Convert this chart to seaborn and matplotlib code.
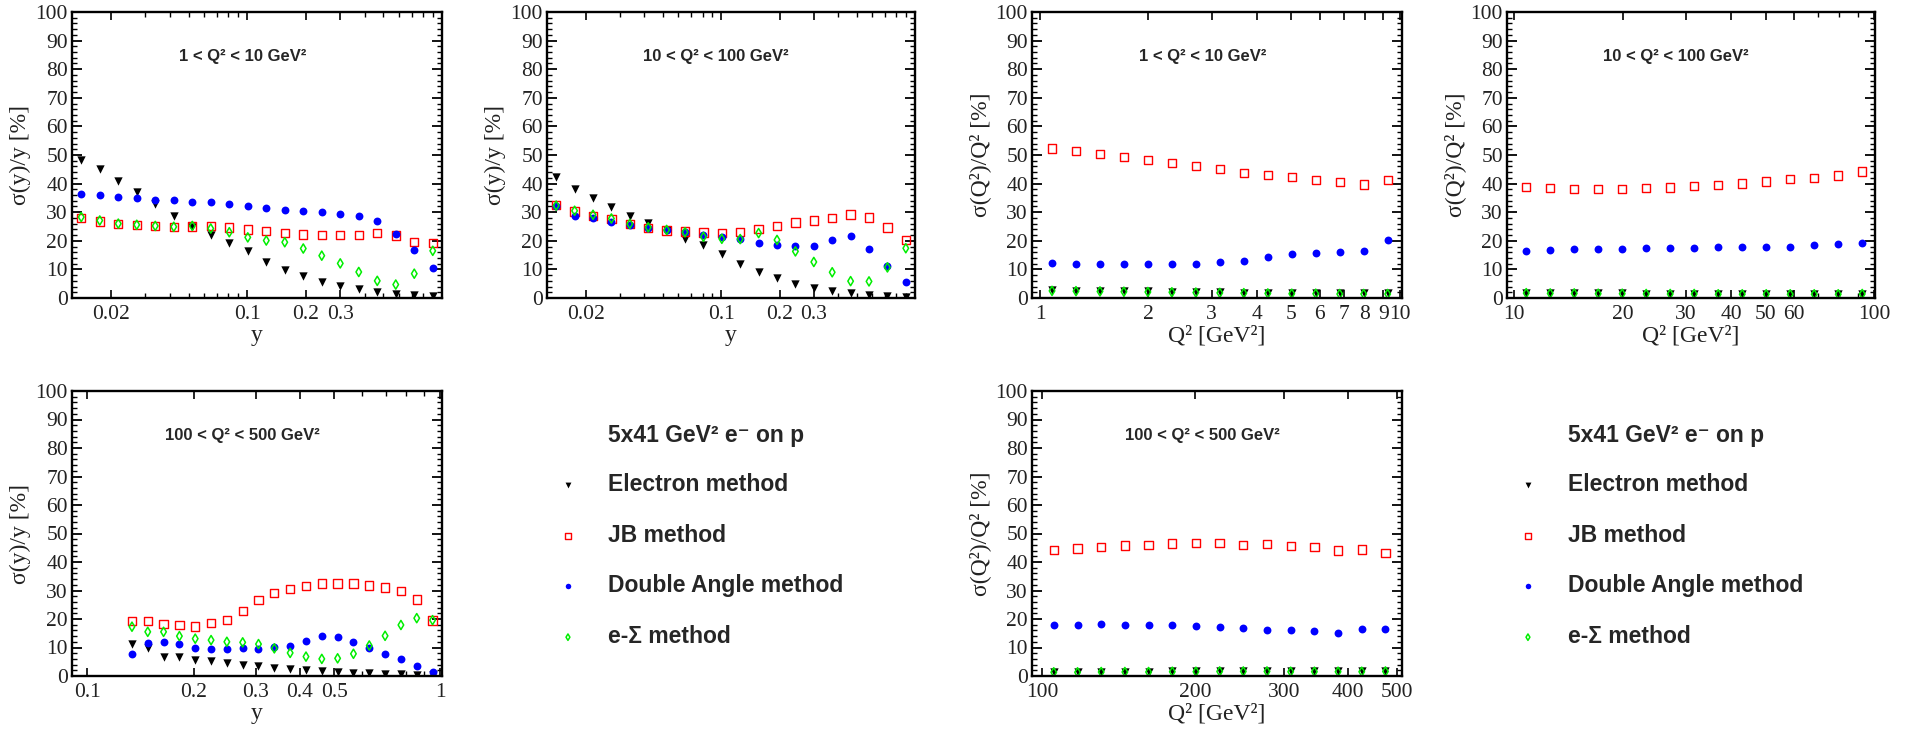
import matplotlib
matplotlib.use("Agg")
import matplotlib.pyplot as plt
import seaborn as sns
from matplotlib.ticker import FixedLocator, FixedFormatter, NullFormatter, MultipleLocator

# bin centres
y_bins_low = [0.01404, 0.01748, 0.02176, 0.02707, 0.03369, 0.04194, 0.05220, 0.06494,
              0.08085, 0.1006, 0.1252, 0.1558, 0.1939, 0.2413, 0.3003, 0.3737,
              0.4651, 0.5788, 0.7204, 0.8965]
y_bins_high = [0.1338, 0.1483, 0.1644, 0.1823, 0.2021, 0.2241, 0.2484, 0.2754,
               0.3053, 0.3385, 0.3753, 0.4161, 0.4613, 0.5114, 0.5670, 0.6286,
               0.6969, 0.7727, 0.8566, 0.9497]
q2_bins_1_10 = [1.080, 1.259, 1.468, 1.711, 1.995, 2.326, 2.712, 3.162, 3.687, 4.299,
                5.012, 5.843, 6.813, 7.943, 9.261]
q2_bins_10_100 = [10.80, 12.59, 14.68, 17.11, 19.95, 23.26, 27.12, 31.62, 36.87, 42.99,
                  50.12, 58.43, 68.13, 79.43, 92.61]
q2_bins_100_500 = [105.5, 117.5, 130.8, 145.6, 162.1, 180.5, 200.9, 223.7, 249.0, 277.2,
                   308.6, 343.6, 382.5, 425.8, 474.1]

# sigma(y)/y [%], 1 < Q2 < 10
sy1_electron = [48.3, 45.0, 41.0, 37.0, 32.9, 28.8, 25.0, 22.0, 19.3, 16.3,
                12.7, 9.8, 7.6, 5.7, 4.3, 3.0, 2.2, 1.5, 1.0, 0.6]
sy1_jb = [27.9, 26.7, 25.8, 25.5, 25.1, 24.9, 25.0, 25.2, 24.7, 24.0,
          23.4, 22.7, 22.2, 22.0, 22.0, 22.1, 22.7, 21.9, 19.5, 19.3]
sy1_da = [36.5, 36.0, 35.2, 35.0, 34.4, 34.2, 33.7, 33.4, 32.8, 32.0,
          31.5, 30.7, 30.3, 29.9, 29.2, 28.7, 27.0, 22.3, 16.9, 10.6]
sy1_esigma = [28.3, 27.1, 26.0, 25.6, 25.2, 24.9, 25.2, 24.3, 23.0, 21.2,
              20.1, 19.5, 17.3, 14.8, 12.1, 9.1, 6.0, 4.7, 8.5, 16.5]

# sigma(y)/y [%], 10 < Q2 < 100
sy2_electron = [42.4, 38.0, 35.0, 31.7, 28.8, 26.2, 23.8, 20.8, 18.4, 15.5,
                12.0, 9.1, 6.9, 5.0, 3.6, 2.4, 1.7, 1.0, 0.7, 0.5]
sy2_jb = [32.6, 30.2, 28.7, 27.6, 25.8, 24.4, 23.6, 23.3, 22.9, 22.7,
          23.0, 24.1, 25.2, 26.4, 27.1, 28.0, 29.2, 28.1, 24.7, 20.3]
sy2_da = [32.0, 28.7, 27.9, 26.6, 25.6, 24.4, 23.8, 23.0, 22.1, 21.5,
          20.6, 19.4, 18.7, 18.1, 18.1, 20.2, 21.6, 17.0, 11.2, 5.6]
sy2_esigma = [32.3, 30.5, 29.1, 27.8, 25.9, 24.7, 23.8, 23.0, 21.4, 20.7,
              20.6, 22.7, 20.3, 16.3, 12.6, 9.0, 5.9, 5.8, 10.7, 17.4]

# sigma(y)/y [%], 100 < Q2 < 500
sy3_electron = [11.1, 9.7, 6.5, 6.8, 5.6, 5.1, 4.4, 3.9, 3.5, 2.8,
                2.5, 2.0, 1.8, 1.4, 1.2, 0.9, 0.7, 0.6, 0.35, 0.2]
sy3_jb = [19.4, 19.2, 18.2, 17.8, 17.4, 18.5, 19.6, 22.8, 26.6, 29.2,
          30.6, 31.5, 32.4, 32.4, 32.4, 31.8, 31.0, 29.9, 26.8, 19.5]
sy3_da = [7.6, 11.7, 11.9, 11.1, 10.0, 9.6, 9.6, 9.7, 9.6, 10.3,
          10.7, 12.3, 14.0, 13.8, 11.8, 9.9, 7.7, 5.8, 3.5, 1.4]
sy3_esigma = [17.3, 15.5, 15.5, 14.0, 13.1, 12.6, 12.0, 11.8, 11.2, 9.7,
              8.1, 6.8, 6.0, 6.2, 7.8, 10.7, 14.1, 17.9, 20.3, 19.6]

# sigma(Q2)/Q2 [%], 1 < Q2 < 10
sq1_electron = [2.7, 2.6, 2.5, 2.4, 2.3, 2.2, 2.1, 2.0, 1.9, 1.8, 1.7, 1.7, 1.6, 1.6, 1.6]
sq1_jb = [52.3, 51.4, 50.3, 49.3, 48.3, 47.2, 46.2, 45.0, 43.8, 43.0,
          42.2, 41.2, 40.5, 39.7, 41.3]
sq1_da = [12.1, 12.0, 12.0, 11.9, 11.9, 11.9, 11.9, 12.6, 12.9, 14.3,
          15.3, 15.8, 16.0, 16.4, 20.3]
sq1_esigma = [2.5, 2.4, 2.3, 2.2, 2.1, 2.0, 1.9, 1.8, 1.7, 1.6, 1.5, 1.5, 1.4, 1.4, 1.4]

# sigma(Q2)/Q2 [%], 10 < Q2 < 100
sq2_electron = [1.8, 1.8, 1.7, 1.6, 1.6, 1.5, 1.5, 1.5, 1.4, 1.4, 1.4, 1.4, 1.4, 1.4, 1.5]
sq2_jb = [38.7, 38.4, 38.1, 38.1, 38.1, 38.4, 38.6, 39.2, 39.5, 40.0,
          40.7, 41.5, 42.0, 42.8, 44.2]
sq2_da = [16.5, 16.9, 17.0, 17.2, 17.2, 17.4, 17.4, 17.6, 17.9, 17.9,
          17.9, 18.0, 18.4, 18.8, 19.4]
sq2_esigma = [1.7, 1.6, 1.6, 1.5, 1.5, 1.4, 1.4, 1.4, 1.3, 1.3, 1.3, 1.3, 1.3, 1.3, 1.4]

# sigma(Q2)/Q2 [%], 100 < Q2 < 500
sq3_electron = [1.4, 1.4, 1.5, 1.5, 1.5, 1.6, 1.6, 1.7, 1.7, 1.7, 1.6, 1.6, 1.6, 1.6, 1.7]
sq3_jb = [44.2, 44.7, 45.3, 45.8, 45.9, 46.5, 46.7, 46.6, 46.0, 46.3,
          45.7, 45.3, 44.0, 44.4, 43.2]
sq3_da = [18.0, 18.0, 18.1, 18.0, 17.8, 17.8, 17.4, 17.1, 16.7, 16.2,
          16.0, 15.8, 15.2, 16.4, 16.4]
sq3_esigma = [1.3, 1.3, 1.4, 1.4, 1.4, 1.5, 1.5, 1.6, 1.6, 1.6, 1.5, 1.5, 1.5, 1.5, 1.6]

methods = ["Electron method", "JB method", "Double Angle method", "e-\u03a3 method"]
header = "5x41 GeV\u00b2 e\u207b on p"

# tick labels on the log x axes
ticks_y_low = [0.02, 0.1, 0.2, 0.3]
ticks_y_high = [0.1, 0.2, 0.3, 0.4, 0.5, 1]
ticks_q2_1_10 = [1, 2, 3, 4, 5, 6, 7, 8, 9, 10]
ticks_q2_10_100 = [10, 20, 30, 40, 50, 60, 100]
ticks_q2_100_500 = [100, 200, 300, 400, 500]

W, H = 1906, 732
sns.set_style("ticks")
plt.rcParams["font.family"] = ["Liberation Serif", "DejaVu Serif"]

fig = plt.figure(figsize=(W / 100, H / 100), dpi=100)


def rect(left, top, right, bottom):
    return [left / W, 1 - bottom / H, (right - left) / W, (bottom - top) / H]


def draw_panel(ax, x, electron, jb, da, esigma):
    sns.scatterplot(x=x, y=electron, ax=ax, marker="v", s=36, color="black",
                    edgecolor="black", linewidth=0, legend=False, label=methods[0])
    sns.scatterplot(x=x, y=jb, ax=ax, marker="s", s=36, facecolor="none",
                    edgecolor="#ff0000", linewidth=1.0, legend=False, label=methods[1])
    sns.scatterplot(x=x, y=da, ax=ax, marker="o", s=32, color="#0000ff",
                    edgecolor="#0000ff", linewidth=0, legend=False, label=methods[2])
    sns.scatterplot(x=x, y=esigma, ax=ax, marker="d", s=22, facecolor="none",
                    edgecolor="#00ee00", linewidth=1.1, legend=False, label=methods[3])


def style_axes(ax, xlim, major, xlabel, ylabel, title):
    ax.set_xscale("log")
    ax.set_xlim(*xlim)
    ax.set_ylim(0, 100)
    minor = []
    lo, hi = xlim
    dec = 10.0 ** int(f"{lo:e}".split("e")[1])
    while dec < hi:
        for m in range(1, 10):
            v = m * dec
            if lo <= v <= hi and all(abs(v - t) > 1e-9 * v for t in major):
                minor.append(v)
        dec *= 10
    ax.xaxis.set_major_locator(FixedLocator(major))
    ax.xaxis.set_major_formatter(FixedFormatter([f"{t:g}" for t in major]))
    ax.xaxis.set_minor_locator(FixedLocator(minor))
    ax.xaxis.set_minor_formatter(NullFormatter())
    ax.yaxis.set_major_locator(MultipleLocator(10))
    ax.yaxis.set_minor_locator(MultipleLocator(2))
    ax.tick_params(which="both", direction="in", top=True, right=True,
                   labelsize=15.5, color="black", labelcolor="#222222")
    ax.tick_params(axis="y", which="major", length=7, width=1.3, pad=3)
    ax.tick_params(axis="y", which="minor", length=3.6, width=1.0)
    ax.tick_params(axis="x", which="major", length=6, width=1.2, pad=5)
    ax.tick_params(axis="x", which="minor", length=3.5, width=1.0)
    for sp in ax.spines.values():
        sp.set_linewidth(1.7)
        sp.set_color("black")
    ax.set_xlabel(xlabel, fontsize=17, labelpad=1, color="#222222")
    ax.set_ylabel(ylabel, fontsize=17, labelpad=3, color="#222222")
    ax.text(0.46, 0.843, title, transform=ax.transAxes, ha="center", va="center",
            fontsize=12, fontweight="bold", family=["Liberation Sans", "DejaVu Sans"])
    ax.set_facecolor("white")


panels = [
    (rect(72, 12, 442, 298), y_bins_low, (sy1_electron, sy1_jb, sy1_da, sy1_esigma),
     (10 ** -1.9, 1.0), ticks_y_low, "y", "\u03c3(y)/y [%]", "1 < Q\u00b2 < 10 GeV\u00b2"),
    (rect(547, 12, 915, 298), y_bins_low, (sy2_electron, sy2_jb, sy2_da, sy2_esigma),
     (10 ** -1.9, 1.0), ticks_y_low, "y", "\u03c3(y)/y [%]", "10 < Q\u00b2 < 100 GeV\u00b2"),
    (rect(1032, 12, 1402, 298), q2_bins_1_10, (sq1_electron, sq1_jb, sq1_da, sq1_esigma),
     (0.95, 10.15), ticks_q2_1_10, "Q\u00b2 [GeV\u00b2]", "\u03c3(Q\u00b2)/Q\u00b2 [%]",
     "1 < Q\u00b2 < 10 GeV\u00b2"),
    (rect(1507, 12, 1875, 298), q2_bins_10_100, (sq2_electron, sq2_jb, sq2_da, sq2_esigma),
     (9.55, 100.5), ticks_q2_10_100, "Q\u00b2 [GeV\u00b2]", "\u03c3(Q\u00b2)/Q\u00b2 [%]",
     "10 < Q\u00b2 < 100 GeV\u00b2"),
    (rect(72, 391, 442, 676), y_bins_high, (sy3_electron, sy3_jb, sy3_da, sy3_esigma),
     (0.0905, 1.01), ticks_y_high, "y", "\u03c3(y)/y [%]", "100 < Q\u00b2 < 500 GeV\u00b2"),
    (rect(1032, 391, 1402, 676), q2_bins_100_500, (sq3_electron, sq3_jb, sq3_da, sq3_esigma),
     (95.6, 511), ticks_q2_100_500, "Q\u00b2 [GeV\u00b2]", "\u03c3(Q\u00b2)/Q\u00b2 [%]",
     "100 < Q\u00b2 < 500 GeV\u00b2"),
]

axes = []
for r, x, series, xlim, major, xlabel, ylabel, title in panels:
    ax = fig.add_axes(r)
    draw_panel(ax, x, *series)
    style_axes(ax, xlim, major, xlabel, ylabel, title)
    axes.append(ax)

handles, labels = axes[0].get_legend_handles_labels()
sans_bold = {"family": ["Liberation Sans", "DejaVu Sans"], "weight": "bold", "size": 16.5}
for x_marker in (568, 1528):
    fig.text((x_marker + 40) / W, 1 - 435 / H, header, ha="left", va="center",
             fontsize=16.5, fontweight="bold", family=["Liberation Sans", "DejaVu Sans"])
    leg = fig.legend(handles, labels, loc="upper left",
                     bbox_to_anchor=((x_marker - 11.5) / W, 1 - 473 / H),
                     frameon=False, prop=sans_bold, markerscale=0.7,
                     handlelength=1.0, handletextpad=1.25, labelspacing=1.21,
                     borderpad=0, borderaxespad=0)

fig.savefig("out.png", dpi=100, facecolor="white")
